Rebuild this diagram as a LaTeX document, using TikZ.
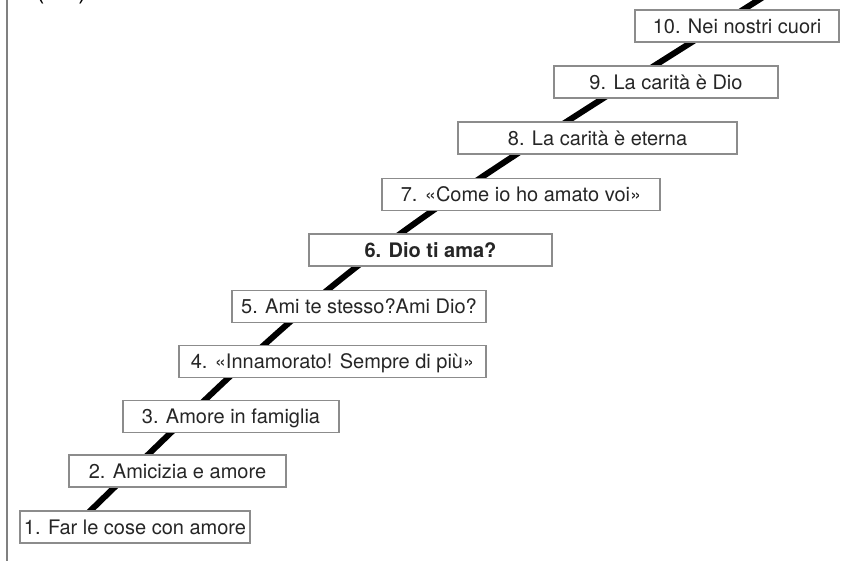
\documentclass[tikz,border=0pt]{standalone}
\usepackage{fontspec}
\setmainfont{TeX Gyre Heros}
\begin{document}
\begin{tikzpicture}[x=1pt,y=-1pt,
  stepbox/.style={draw=boxgray, line width=1.2pt, fill=white, rectangle,
    inner sep=0pt, minimum height=32pt, text height=14.3pt, text depth=0pt,
    font=\fontsize{20}{20}\selectfont, text=black!85},
  rail/.style={line width=6pt, black},
  framecol/.style={draw=framegray, line width=2pt}]
\definecolor{boxgray}{HTML}{8C8C8C}
\definecolor{framegray}{HTML}{808080}
\useasboundingbox (0,0) rectangle (843,560);
\fill[white] (0,0) rectangle (843,560);
\draw[framecol] (7,-2) -- (7,562);
\node[anchor=base, font=\fontsize{26}{26}\selectfont, inner sep=0pt] (paren) at (61.5,-1.5) {(\hspace{34pt})};
% rail
\coordinate (railA) at (86,515);
\coordinate (railB) at (768,-6);
\draw[rail] (railA) .. controls (351,257) .. (railB);
% steps
\node[stepbox, minimum width=230pt] (s1) at (135,527) {1. Far le cose con amore};
\node[stepbox, minimum width=217pt] (s2) at (177.5,471) {2. Amicizia e amore};
\node[stepbox, minimum width=216pt] (s3) at (231,416.5) {3. Amore in famiglia};
\node[stepbox, minimum width=307pt] (s4) at (332.5,361.5) {4. «Innamorato! Sempre di più»};
\node[stepbox, minimum width=254pt] (s5) at (359,306.5) {5. Ami te stesso?Ami Dio?};
\node[stepbox, minimum width=243pt, font=\fontsize{20}{20}\selectfont\bfseries] (s6) at (430.5,250) {6. Dio ti ama?};
\node[stepbox, minimum width=278pt] (s7) at (521,194.5) {7. «Come io ho amato voi»};
\node[stepbox, minimum width=279pt] (s8) at (597.5,138) {8. La carità è eterna};
\node[stepbox, minimum width=224pt] (s9) at (666,82) {9. La carità è Dio};
\node[stepbox, minimum width=204pt] (s10) at (737,26) {10. Nei nostri cuori};
\end{tikzpicture}
\end{document}
